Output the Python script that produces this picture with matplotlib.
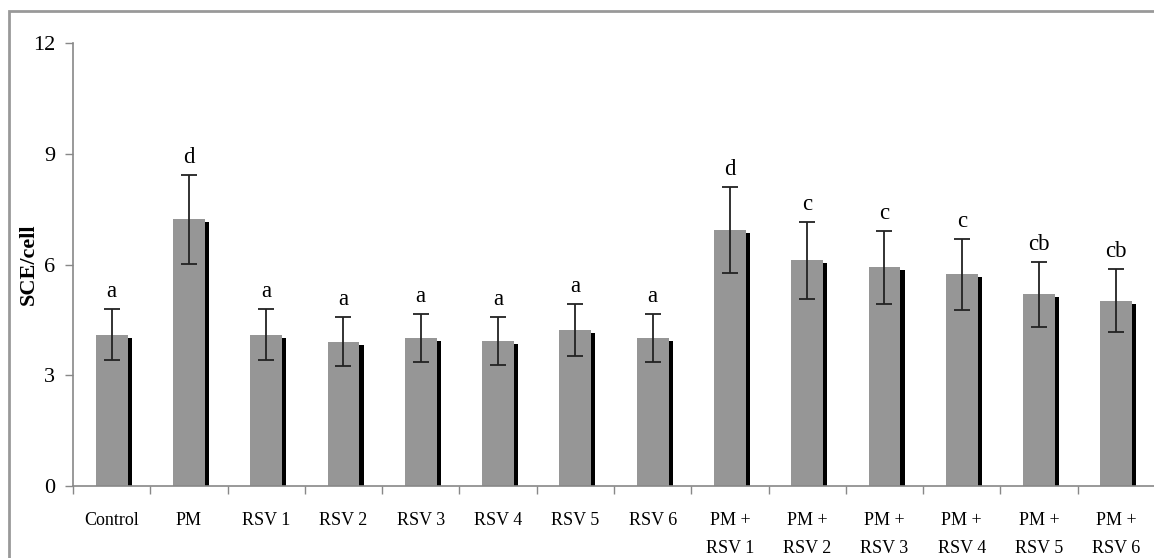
import numpy as np
import matplotlib
matplotlib.use('Agg')
import matplotlib.pyplot as plt
from matplotlib.patches import Rectangle

plt.rcParams['font.family'] = ['Liberation Serif', 'DejaVu Serif']

# 数据
groups = ['Control', 'PM', 'RSV 1', 'RSV 2', 'RSV 3', 'RSV 4', 'RSV 5', 'RSV 6',
          'PM +\nRSV 1', 'PM +\nRSV 2', 'PM +\nRSV 3', 'PM +\nRSV 4', 'PM +\nRSV 5', 'PM +\nRSV 6']
sce = [4.1, 7.22, 4.1, 3.91, 4.02, 3.92, 4.22, 4.02, 6.93, 6.11, 5.92, 5.73, 5.2, 5.02]
sd = [0.7, 1.2, 0.7, 0.67, 0.65, 0.65, 0.7, 0.65, 1.16, 1.05, 1.0, 0.96, 0.88, 0.86]
letters = ['a', 'd', 'a', 'a', 'a', 'a', 'a', 'a', 'd', 'c', 'c', 'c', 'cb', 'cb']
yticks = [0, 3, 6, 9, 12]

fig = plt.figure(figsize=(11.54, 5.58), dpi=100)
ax = fig.add_axes([73 / 1154, 72 / 558, 1082 / 1154, 443 / 558])

x = np.arange(len(groups))
w = 0.414
# 阴影（黑色），在灰色柱后面
ax.bar(x + 0.052, np.array(sce) - 0.08, width=w, color='black', zorder=1)
ax.bar(x, sce, width=w, color='#969696', zorder=2)
ax.errorbar(x, sce, yerr=sd, fmt='none', ecolor='#222222', elinewidth=1.3,
            capsize=5.5, capthick=1.3, zorder=3)

for xi, v, e, t in zip(x, sce, sd, letters):
    ax.annotate(t, (xi, v + e), xytext=(0, 5), textcoords='offset points',
                ha='center', va='bottom', fontsize=16.5)

ax.set_xlim(-0.5, len(groups) - 0.5)
ax.set_ylim(0, 12)
ax.set_yticks(yticks)
ax.tick_params(axis='y', length=6, width=1, color='#888888', pad=7, labelsize=16)

# x轴：刻度在分组边界，标签在中间
ax.set_xticks(np.arange(len(groups) + 1) - 0.5)
ax.set_xticklabels([])
ax.tick_params(axis='x', which='major', length=6, width=1, color='#888888', direction='out')
ax.set_xticks(x, minor=True)
ax.set_xticklabels(groups, minor=True, fontsize=13, linespacing=1.85)
ax.tick_params(axis='x', which='minor', length=0, pad=19)

for s in ['top', 'right']:
    ax.spines[s].set_visible(False)
for s in ['left', 'bottom']:
    ax.spines[s].set_color('#888888')
    ax.spines[s].set_linewidth(1.2)

ax.set_ylabel('SCE/cell', fontsize=16, fontweight='bold')
ax.yaxis.set_label_coords(-0.032, 0.5)

# 外框
fig.patches.append(Rectangle((9 / 1154, -0.1), 1.0, 1.1 - 11 / 558, fill=False,
                             edgecolor='#999999', linewidth=2, transform=fig.transFigure,
                             figure=fig))

fig.savefig('out.png', dpi=100)
